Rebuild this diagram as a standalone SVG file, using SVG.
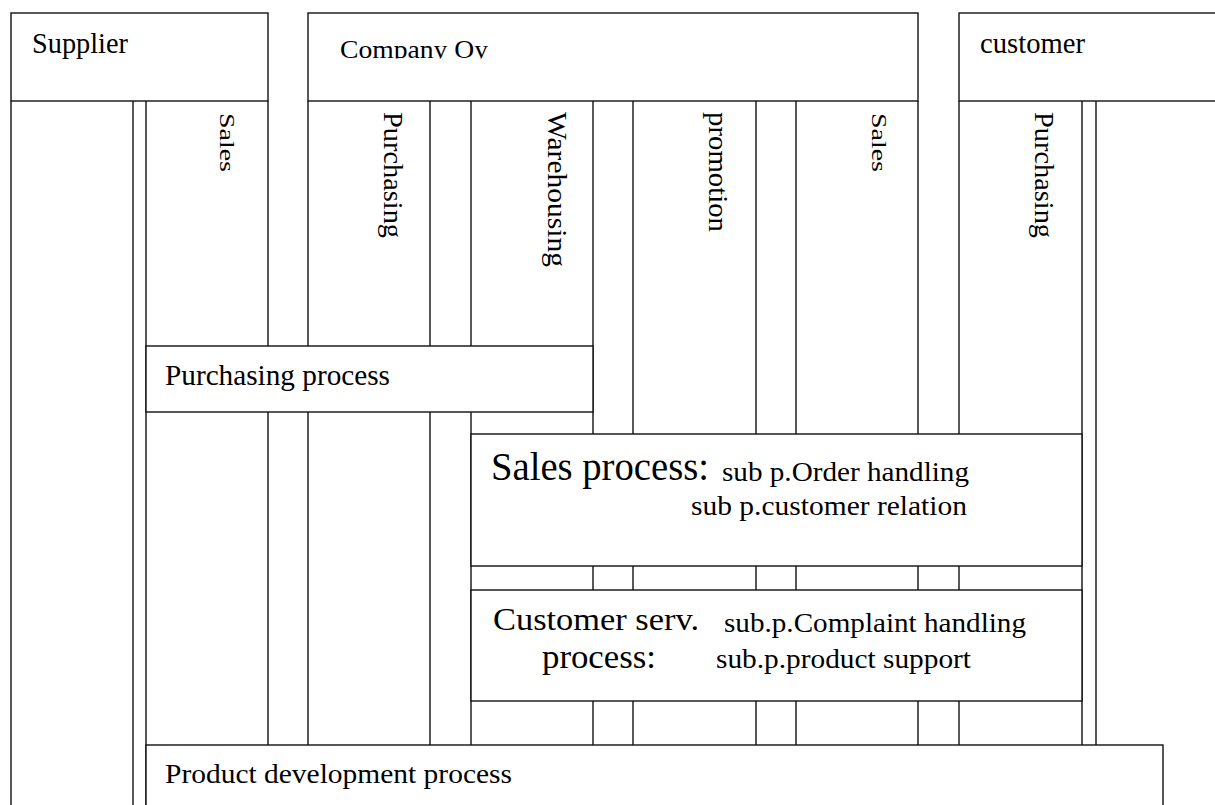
<svg xmlns="http://www.w3.org/2000/svg" width="1215" height="805" viewBox="0 0 1215 805">
  <style>
    .frame { fill: #ffffff; stroke: #111111; stroke-width: 1.4; }
    .lane { stroke: #111111; stroke-width: 1.4; fill: none; }
    .lbl { font-family: "Liberation Serif", "DejaVu Serif", serif; fill: #000000; }
  </style>
  <defs>
    <clipPath id="company-clip">
      <rect x="308" y="13" width="610" height="45.5"/>
    </clipPath>
  </defs>

  <rect width="1215" height="805" fill="#ffffff"/>

  <!-- outer pool borders and lane separators -->
  <g id="lanes">
    <line class="lane" x1="11" y1="101" x2="11" y2="805"/>
    <line class="lane" x1="133" y1="101" x2="133" y2="805"/>
    <line class="lane" x1="146" y1="101" x2="146" y2="805"/>
    <line class="lane" x1="268" y1="101" x2="268" y2="745"/>
    <line class="lane" x1="308" y1="101" x2="308" y2="745"/>
    <line class="lane" x1="430" y1="101" x2="430" y2="745"/>
    <line class="lane" x1="471" y1="101" x2="471" y2="745"/>
    <line class="lane" x1="593" y1="101" x2="593" y2="745"/>
    <line class="lane" x1="633" y1="101" x2="633" y2="745"/>
    <line class="lane" x1="756" y1="101" x2="756" y2="745"/>
    <line class="lane" x1="796" y1="101" x2="796" y2="745"/>
    <line class="lane" x1="918" y1="101" x2="918" y2="745"/>
    <line class="lane" x1="959" y1="101" x2="959" y2="745"/>
    <line class="lane" x1="1082" y1="101" x2="1082" y2="745"/>
    <line class="lane" x1="1096" y1="101" x2="1096" y2="745"/>
  </g>

  <!-- pool headers -->
  <g id="supplier">
    <rect class="frame" x="11" y="13" width="257" height="88"/>
    <text class="lbl" x="32" y="53" font-size="29" textLength="96" lengthAdjust="spacingAndGlyphs">Supplier</text>
    <text class="lbl" transform="translate(220,113) rotate(90)" font-size="20" textLength="59" lengthAdjust="spacingAndGlyphs">Sales</text>
  </g>

  <g id="company">
    <rect class="frame" x="308" y="13" width="610" height="88"/>
    <text class="lbl" x="340" y="58" font-size="25" textLength="148" lengthAdjust="spacingAndGlyphs" clip-path="url(#company-clip)">Company Oy</text>
    <text class="lbl" transform="translate(384,112) rotate(90)" font-size="28" textLength="126" lengthAdjust="spacingAndGlyphs">Purchasing</text>
    <text class="lbl" transform="translate(548,112) rotate(90)" font-size="28" textLength="155" lengthAdjust="spacingAndGlyphs">Warehousing</text>
    <text class="lbl" transform="translate(709,112) rotate(90)" font-size="28" textLength="120" lengthAdjust="spacingAndGlyphs">promotion</text>
    <text class="lbl" transform="translate(872,113) rotate(90)" font-size="20" textLength="59" lengthAdjust="spacingAndGlyphs">Sales</text>
  </g>

  <g id="customer">
    <rect class="frame" x="959" y="13" width="270" height="88"/>
    <text class="lbl" x="980" y="53" font-size="29" textLength="105" lengthAdjust="spacingAndGlyphs">customer</text>
    <text class="lbl" transform="translate(1035,112) rotate(90)" font-size="28" textLength="126" lengthAdjust="spacingAndGlyphs">Purchasing</text>
  </g>

  <!-- process bands across the lanes -->
  <g id="purchasing-process">
    <rect class="frame" x="146" y="346" width="447" height="66"/>
    <text class="lbl" x="165" y="385" font-size="29" textLength="225" lengthAdjust="spacingAndGlyphs">Purchasing process</text>
  </g>

  <g id="sales-process">
    <rect class="frame" x="471" y="434" width="611" height="132"/>
    <text class="lbl" x="491" y="480" font-size="39" textLength="218" lengthAdjust="spacingAndGlyphs">Sales process:</text>
    <text class="lbl" x="722" y="481" font-size="27" textLength="247" lengthAdjust="spacingAndGlyphs">sub p.Order handling</text>
    <text class="lbl" x="691" y="515" font-size="27" textLength="276" lengthAdjust="spacingAndGlyphs">sub p.customer relation</text>
  </g>

  <g id="customer-service-process">
    <rect class="frame" x="471" y="590" width="611" height="111"/>
    <text class="lbl" x="493" y="630" font-size="32" textLength="206" lengthAdjust="spacingAndGlyphs">Customer serv.</text>
    <text class="lbl" x="542" y="668" font-size="33" textLength="114" lengthAdjust="spacingAndGlyphs">process:</text>
    <text class="lbl" x="724" y="632" font-size="28" textLength="302" lengthAdjust="spacingAndGlyphs">sub.p.Complaint handling</text>
    <text class="lbl" x="716" y="668" font-size="28" textLength="255" lengthAdjust="spacingAndGlyphs">sub.p.product support</text>
  </g>

  <g id="product-development-process">
    <rect class="frame" x="146" y="745" width="1017" height="70"/>
    <text class="lbl" x="165" y="783" font-size="27" textLength="347" lengthAdjust="spacingAndGlyphs">Product development process</text>
  </g>
</svg>
